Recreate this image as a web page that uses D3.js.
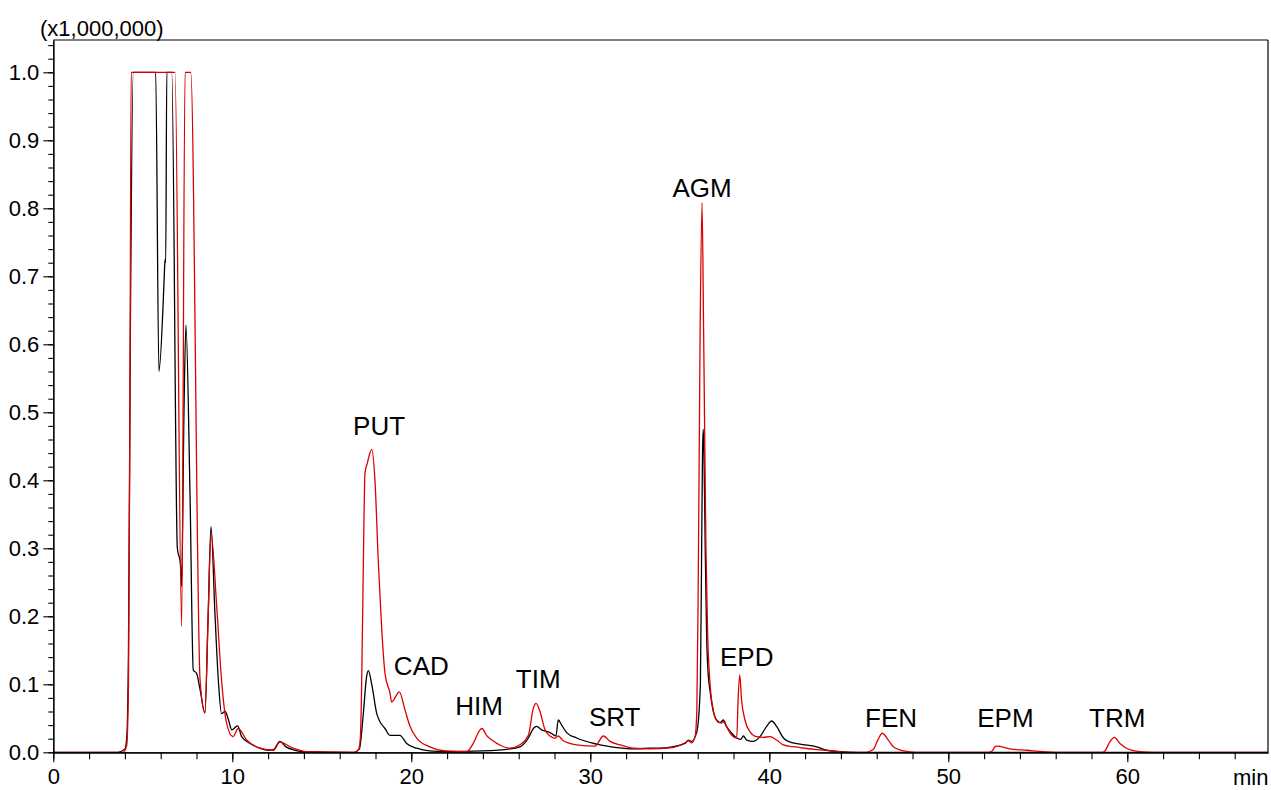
<!DOCTYPE html>
<html>
<head>
<meta charset="utf-8">
<script src="https://cdn.jsdelivr.net/npm/d3@7"></script>
<style>
  html, body { margin: 0; padding: 0; background: #fff; }
  svg { display: block; }
  text { font-family: "Liberation Sans", Arial, Helvetica, sans-serif; fill: #000; }
</style>
</head>
<body>
<svg id="chart" width="1271" height="790"></svg>
<script>
// ---- Data (time in minutes, intensity in units of 1,000,000) ----
const blackTrace = [
  [0, 0.0], [3.6, 0.0], [4.0, 0.005], [4.1, 0.02], [4.2, 0.15], [4.3, 0.6], [4.47, 1.0],
  [5.72, 1.0], [5.9, 0.56], [6.2, 0.70], [6.24, 0.725], [6.28, 0.72], [6.34, 1.0],
  [6.62, 1.0], [6.93, 0.30], [7.1, 0.278], [7.17, 0.244], [7.3, 0.5], [7.41, 0.628],
  [7.64, 0.376], [7.82, 0.121], [8.01, 0.116], [8.2, 0.092], [8.47, 0.058], [8.65, 0.2],
  [8.81, 0.332], [9.03, 0.204], [9.22, 0.106], [9.4, 0.057], [9.6, 0.060], [9.79, 0.0475],
  [9.97, 0.033], [10.3, 0.039], [10.52, 0.023], [11.0, 0.013], [11.55, 0.006], [12.0, 0.003],
  [12.3, 0.004], [12.66, 0.016], [13.0, 0.008], [13.5, 0.003], [14.0, 0.001], [16.8, 0.0],
  [17.1, 0.005], [17.32, 0.057], [17.5, 0.111], [17.6, 0.12], [17.79, 0.10], [18.07, 0.057],
  [18.25, 0.045], [18.53, 0.035], [18.8, 0.025], [19.36, 0.025], [19.74, 0.013], [20.3, 0.006],
  [21.0, 0.002], [22.0, 0.001], [24.0, 0.002], [25.5, 0.005], [26.07, 0.008], [26.54, 0.021],
  [26.82, 0.035], [27.0, 0.038], [27.28, 0.033], [27.75, 0.029], [28.08, 0.024], [28.21, 0.0475],
  [28.4, 0.040], [28.68, 0.029], [29.24, 0.021], [30.36, 0.012], [31.48, 0.007], [32.4, 0.005],
  [33.3, 0.006], [34.3, 0.007], [35.29, 0.013], [35.48, 0.018], [35.66, 0.016], [35.95, 0.03],
  [36.15, 0.1], [36.22, 0.3], [36.27, 0.44], [36.31, 0.475], [36.35, 0.44], [36.42, 0.3],
  [36.5, 0.17], [36.6, 0.11], [36.68, 0.092], [36.96, 0.052], [37.24, 0.0435], [37.43, 0.0475],
  [37.62, 0.038], [37.9, 0.028], [38.18, 0.021], [38.4, 0.019], [38.55, 0.024], [38.74, 0.018],
  [39.1, 0.016], [39.48, 0.023], [39.85, 0.038], [40.13, 0.046], [40.41, 0.038], [40.79, 0.021],
  [41.06, 0.016], [41.72, 0.012], [42.65, 0.008], [43.2, 0.003], [43.95, 0.001], [45.0, 0.0],
  [67.85, 0.0]
];

const redTrace = [
  [0, 0.0], [3.9, 0.0], [4.1, 0.01], [4.2, 0.1], [4.28, 0.5], [4.35, 1.0],
  [6.8, 1.0], [7.17, 0.185], [7.36, 1.0], [7.68, 1.0], [8.2, 0.106], [8.47, 0.058],
  [8.65, 0.2], [8.81, 0.322], [9.13, 0.214], [9.4, 0.106], [9.68, 0.043], [10.04, 0.023],
  [10.33, 0.035], [10.8, 0.018], [11.55, 0.006], [12.3, 0.003], [12.66, 0.015], [13.4, 0.006],
  [14.15, 0.001], [16.8, 0.0], [17.05, 0.004], [17.15, 0.02], [17.22, 0.09], [17.28, 0.2],
  [17.35, 0.33], [17.41, 0.41], [17.54, 0.425], [17.79, 0.4456], [17.97, 0.40], [18.16, 0.278],
  [18.35, 0.18], [18.53, 0.116], [18.81, 0.087], [18.9, 0.074], [19.33, 0.089], [19.65, 0.062],
  [19.93, 0.038], [20.3, 0.021], [21.04, 0.008], [21.98, 0.002], [23.1, 0.001], [23.46, 0.013],
  [23.84, 0.033], [23.95, 0.035], [24.2, 0.025], [24.5, 0.018], [25.0, 0.010], [25.5, 0.006],
  [26.07, 0.011], [26.54, 0.025], [26.82, 0.065], [26.97, 0.072], [27.19, 0.06], [27.47, 0.033],
  [27.75, 0.024], [28.03, 0.0206], [28.21, 0.024], [28.49, 0.017], [29.24, 0.011], [30.26, 0.009],
  [30.73, 0.024], [31.1, 0.016], [31.66, 0.011], [32.4, 0.006], [33.3, 0.005], [34.6, 0.007],
  [35.29, 0.014], [35.48, 0.017], [35.66, 0.014], [35.85, 0.023], [35.95, 0.06], [36.03, 0.25],
  [36.13, 0.6], [36.24, 0.808], [36.33, 0.62], [36.39, 0.47], [36.46, 0.30], [36.55, 0.18],
  [36.69, 0.101], [36.87, 0.062], [37.06, 0.0475], [37.34, 0.043], [37.43, 0.045], [37.62, 0.037],
  [37.9, 0.025], [38.18, 0.021], [38.26, 0.08], [38.35, 0.114], [38.45, 0.077], [38.64, 0.0475],
  [38.92, 0.030], [39.29, 0.023], [39.66, 0.022], [40.04, 0.023], [40.41, 0.018], [40.78, 0.011],
  [41.72, 0.007], [42.65, 0.004], [43.6, 0.002], [44.3, 0.0], [45.4, 0.0], [45.8, 0.004],
  [46.06, 0.018], [46.31, 0.028], [46.65, 0.018], [46.93, 0.008], [47.5, 0.002], [48.2, 0.0],
  [52.2, 0.0], [52.45, 0.002], [52.6, 0.008], [52.7, 0.009], [53.45, 0.005], [54.4, 0.003],
  [55.3, 0.001], [56.0, 0.0], [58.6, 0.0], [58.75, 0.002], [59.04, 0.016], [59.27, 0.022],
  [59.59, 0.013], [59.96, 0.006], [60.7, 0.001], [61.5, 0.0], [67.85, 0.0]
];

const peakNames  = ["PUT", "CAD", "HIM", "TIM", "SRT", "AGM", "EPD", "FEN", "EPM", "TRM"];
const peakTimes  = [18.20, 20.56, 23.78, 27.09, 31.36, 36.24, 38.74, 46.80, 53.19, 59.44];
const peakLevels = [0.4666, 0.1137, 0.0549, 0.0941, 0.0387, 0.817, 0.127, 0.0376, 0.0376, 0.0376];

const xMajorTicks = [0, 10, 20, 30, 40, 50, 60];
const xMinorTicks = d3.range(0, 67, 2);
const yMajorTicks = [0, 0.1, 0.2, 0.3, 0.4, 0.5, 0.6, 0.7, 0.8, 0.9, 1.0];
const yMinorTicks = d3.range(0, 53).map(i => i * 0.02);
const yUnitLabel = "(x1,000,000)";
const xUnitLabel = "min";

// ---- Layout ----
const mLeft = 53.3, mTop = 40, mRight = 1268, mBottom = 752.3;
const svg = d3.select("#chart");

const x = d3.scaleLinear().domain([0, 67.86]).range([mLeft, mRight]);
const y = d3.scaleLinear().domain([0, 1.0475]).range([mBottom, mTop]);

svg.append("clipPath").attr("id", "plotclip")
  .append("rect").attr("x", mLeft).attr("y", mTop - 1)
  .attr("width", mRight - mLeft).attr("height", mBottom - mTop + 2);

// ---- Traces ----
const line = d3.line()
  .x(d => x(d[0]))
  .y(d => y(d[1]))
  .curve(d3.curveMonotoneX);

const traces = svg.append("g").attr("clip-path", "url(#plotclip)");
traces.append("path").datum(blackTrace)
  .attr("d", line).attr("fill", "none").attr("stroke", "#000")
  .attr("stroke-width", 1.3).attr("stroke-linejoin", "round");
traces.append("path").datum(redTrace)
  .attr("d", line).attr("fill", "none").attr("stroke", "#dd0000")
  .attr("stroke-width", 1.3).attr("stroke-linejoin", "round");

// ---- Axes ----
function styleAxis(g) {
  g.selectAll("path.domain").attr("stroke", "#000").attr("stroke-width", 1.2);
  g.selectAll(".tick line").attr("stroke", "#000").attr("stroke-width", 1.1);
  g.selectAll(".tick text").style("font-size", "22px")
    .style("font-family", '"Liberation Sans", Arial, sans-serif').attr("fill", "#000");
}

svg.append("g").attr("transform", `translate(${mLeft},0)`)
  .call(d3.axisLeft(y).tickValues(yMinorTicks).tickSize(5).tickSizeOuter(0).tickFormat(""))
  .call(styleAxis);
svg.append("g").attr("transform", `translate(${mLeft},0)`)
  .call(d3.axisLeft(y).tickValues(yMajorTicks).tickSize(10).tickSizeOuter(0).tickPadding(4)
        .tickFormat(d3.format(".1f")))
  .call(styleAxis);

svg.append("g").attr("transform", `translate(0,${mBottom})`)
  .call(d3.axisBottom(x).tickValues(xMinorTicks).tickSize(7).tickSizeOuter(0).tickFormat(""))
  .call(styleAxis);
svg.append("g").attr("transform", `translate(0,${mBottom})`)
  .call(d3.axisBottom(x).tickValues(xMajorTicks).tickSize(10).tickSizeOuter(0).tickPadding(6)
        .tickFormat(d3.format("d")))
  .call(styleAxis);

svg.append("line").attr("x1", mLeft).attr("x2", mRight).attr("y1", mTop).attr("y2", mTop)
  .attr("stroke", "#000").attr("stroke-width", 1.2);
svg.append("line").attr("x1", mRight).attr("x2", mRight).attr("y1", mTop).attr("y2", mBottom)
  .attr("stroke", "#000").attr("stroke-width", 1.2);

svg.append("text").attr("x", 40).attr("y", 36).style("font-size", "22px").text(yUnitLabel);
svg.append("text").attr("x", 1233).attr("y", 785).style("font-size", "22px").text(xUnitLabel);

svg.append("g").selectAll("text")
  .data(peakNames)
  .join("text")
  .attr("x", (d, i) => x(peakTimes[i]))
  .attr("y", (d, i) => y(peakLevels[i]))
  .attr("text-anchor", "middle")
  .style("font-size", "26px")
  .text(d => d);
</script>
</body>
</html>
